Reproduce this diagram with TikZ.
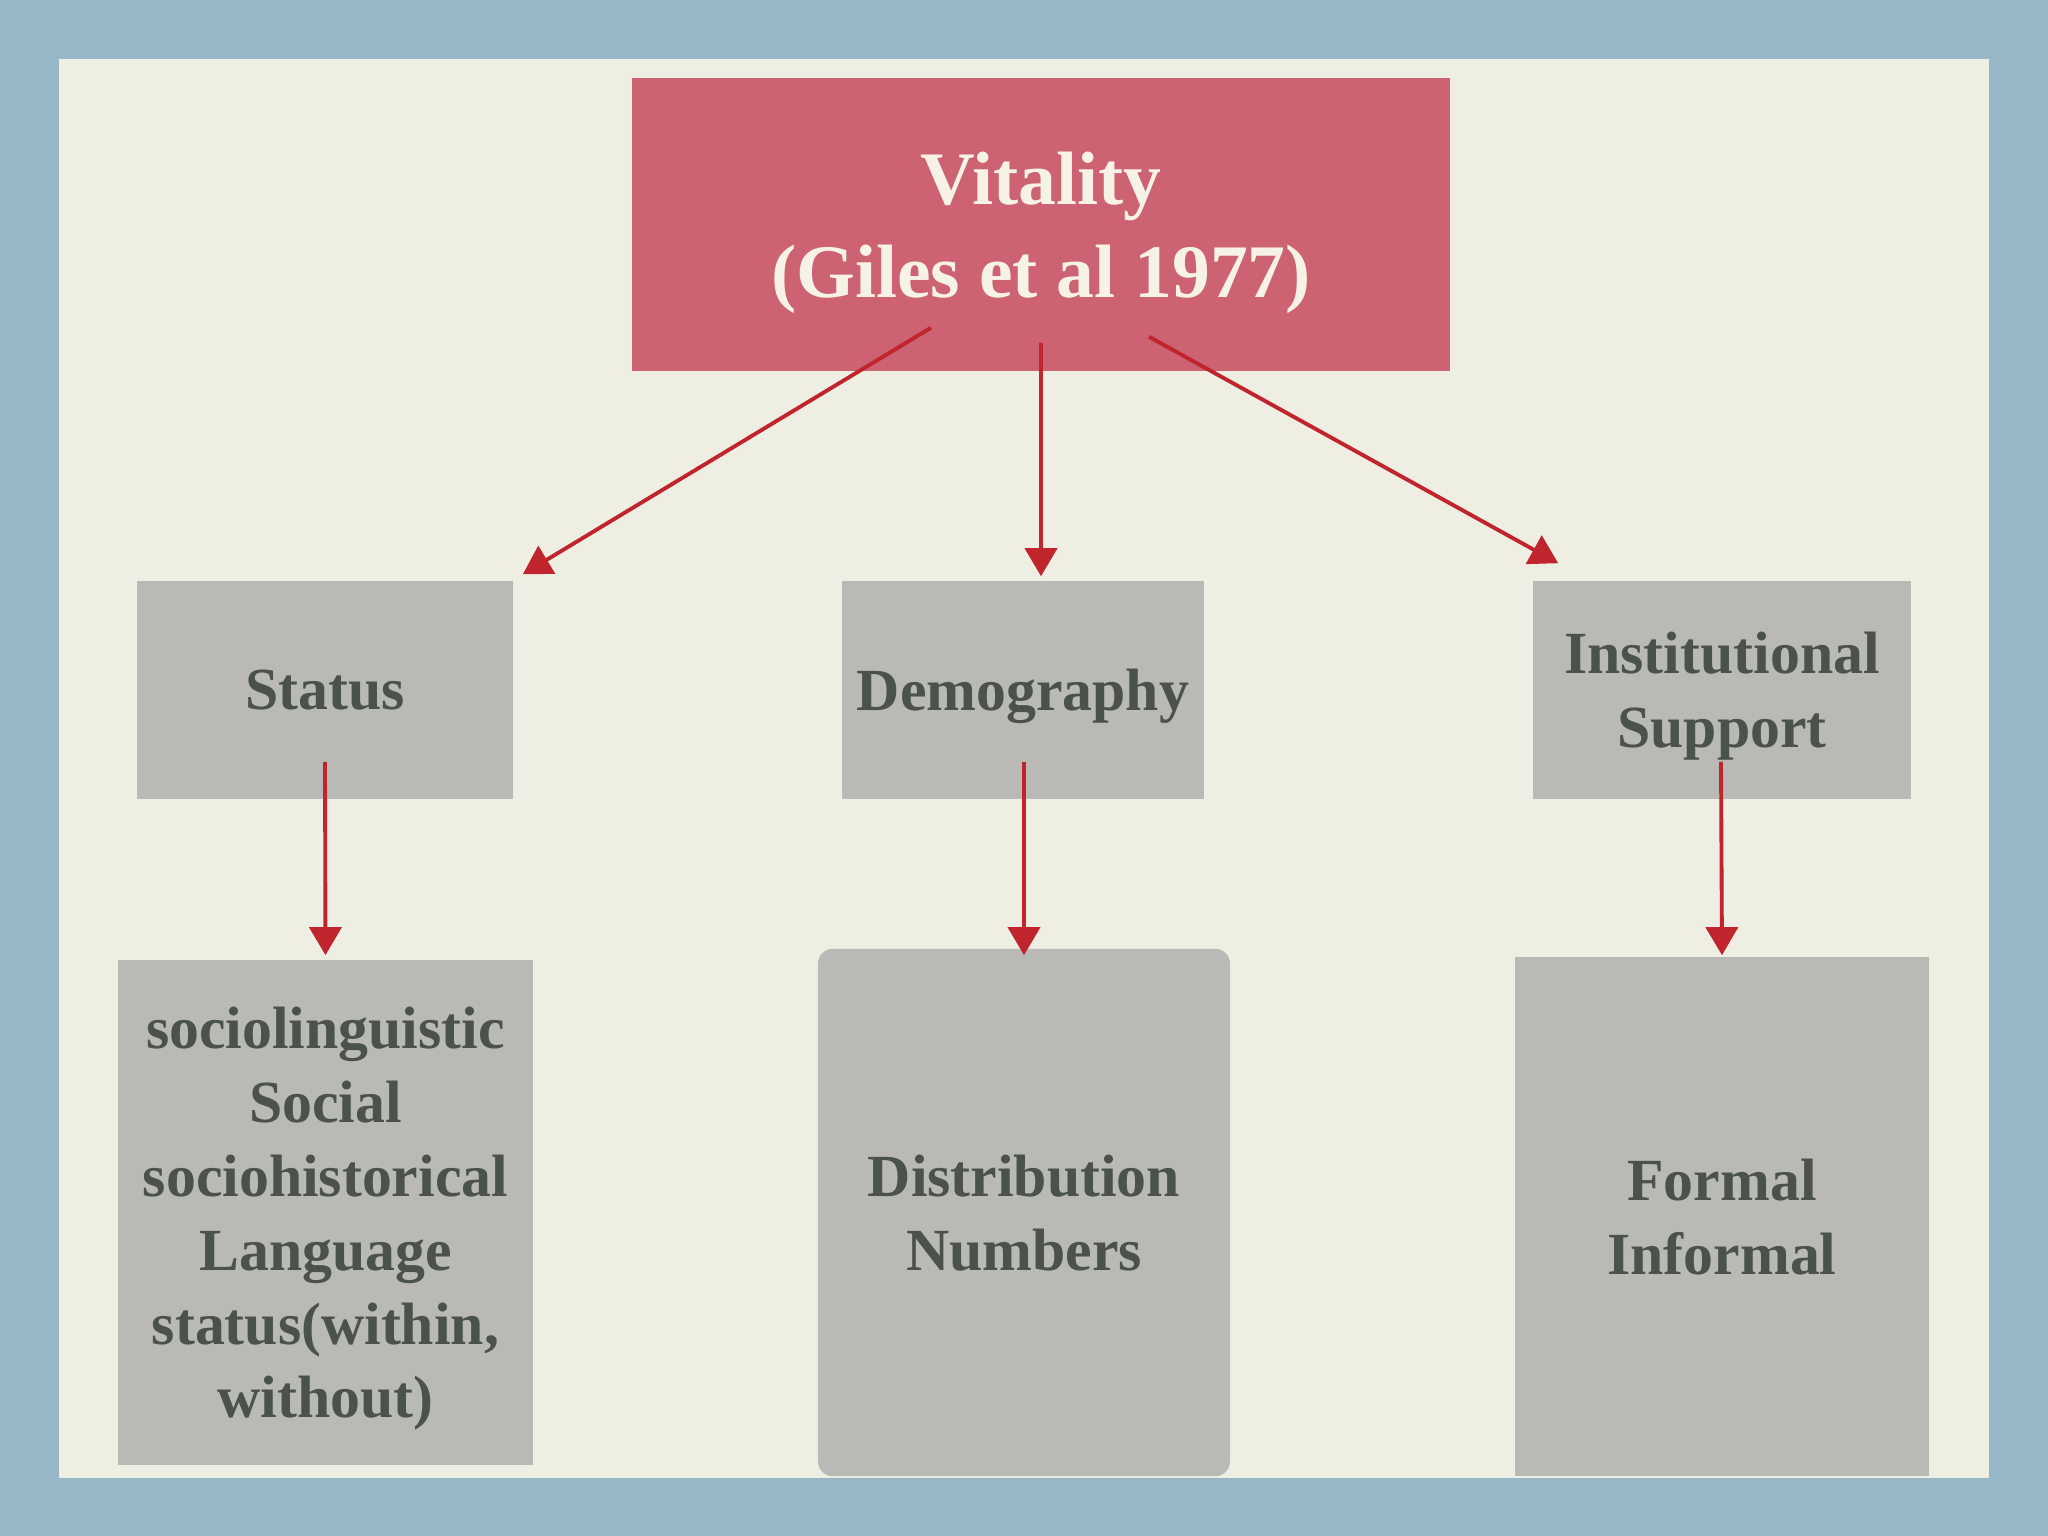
\documentclass[tikz,border=0pt]{standalone}
\usepackage{fontspec}
\setmainfont{Liberation Serif}
\usetikzlibrary{arrows.meta}
\definecolor{framecol}{HTML}{97B6C6}
\definecolor{papercol}{HTML}{EFEEE3}
\definecolor{vitcol}{HTML}{CD6272}
\definecolor{boxcol}{HTML}{B9B9B5}
\definecolor{textcol}{HTML}{4B524A}
\definecolor{arrowcol}{HTML}{C0252D}
\definecolor{lightcol}{HTML}{F6F3E6}
\begin{document}
\begin{tikzpicture}
[x=0.01cm, y=-0.01cm,
vitbox/.style={rectangle, fill=vitcol, minimum width=8.18cm, minimum height=2.93cm, align=center, text depth=-0.05cm, text=lightcol, font=\fontsize{21.5}{26.5}\selectfont\bfseries},
factor/.style={rectangle, fill=boxcol, minimum height=2.18cm, align=center, text depth=0pt, text=textcol, font=\fontsize{17}{21}\selectfont\bfseries},
detail/.style={rectangle, fill=boxcol, align=center, text depth=0pt, text=textcol, font=\fontsize{17}{21}\selectfont\bfseries},
redarrow/.style={draw=arrowcol, line width=1.1pt, -{Triangle[width=0.32cm, length=0.28cm]}}
]
%Background
\fill[framecol] (0,0) rectangle (2048,1536);
\fill[papercol] (59,59) rectangle (1989,1478);
\useasboundingbox (0,0) rectangle (2048,1536);
%Nodes
\node[vitbox]	(vit) at(1041,224.5) {Vitality\\(Giles et al 1977)};
\node[factor, minimum width=3.76cm]	(status) at(325,690) {Status};
\node[factor, minimum width=3.62cm]	(demo) at(1023,690) {Demography};
\node[factor, minimum width=3.78cm]	(inst) at(1722,690) {Institutional\\Support};
\node[detail, minimum width=4.15cm, minimum height=5.05cm]	(statusd) at(325.5,1212.5) {sociolinguistic\\Social\\sociohistorical\\Language\\status(within,\\without)};
\node[detail, rounded corners=0.15cm, minimum width=4.12cm, minimum height=5.27cm]	(demod) at(1024,1212.5) {Distribution\\Numbers};
\node[detail, minimum width=4.14cm, minimum height=5.19cm]	(instd) at(1722,1216.5) {Formal\\Informal};
%Arrows
\draw[redarrow] ([xshift=-1.10cm, yshift=0.44cm]vit.south) -- ([xshift=0.09cm, yshift=0.06cm]status.north east);
\draw[redarrow] ([yshift=0.29cm]vit.south) -- ([xshift=0.18cm, yshift=0.04cm]demo.north);
\draw[redarrow] ([xshift=1.08cm, yshift=0.35cm]vit.south) -- ([xshift=0.26cm, yshift=0.17cm]inst.north west);
\draw[redarrow] ([yshift=0.38cm]status.south) -- ([yshift=0.04cm]statusd.north);
\draw[redarrow] ([xshift=0.01cm, yshift=0.38cm]demo.south) -- ([yshift=-0.07cm]demod.north);
\draw[redarrow] ([xshift=-0.01cm, yshift=0.38cm]inst.south) -- ([yshift=0.01cm]instd.north);
\end{tikzpicture}
\end{document}
